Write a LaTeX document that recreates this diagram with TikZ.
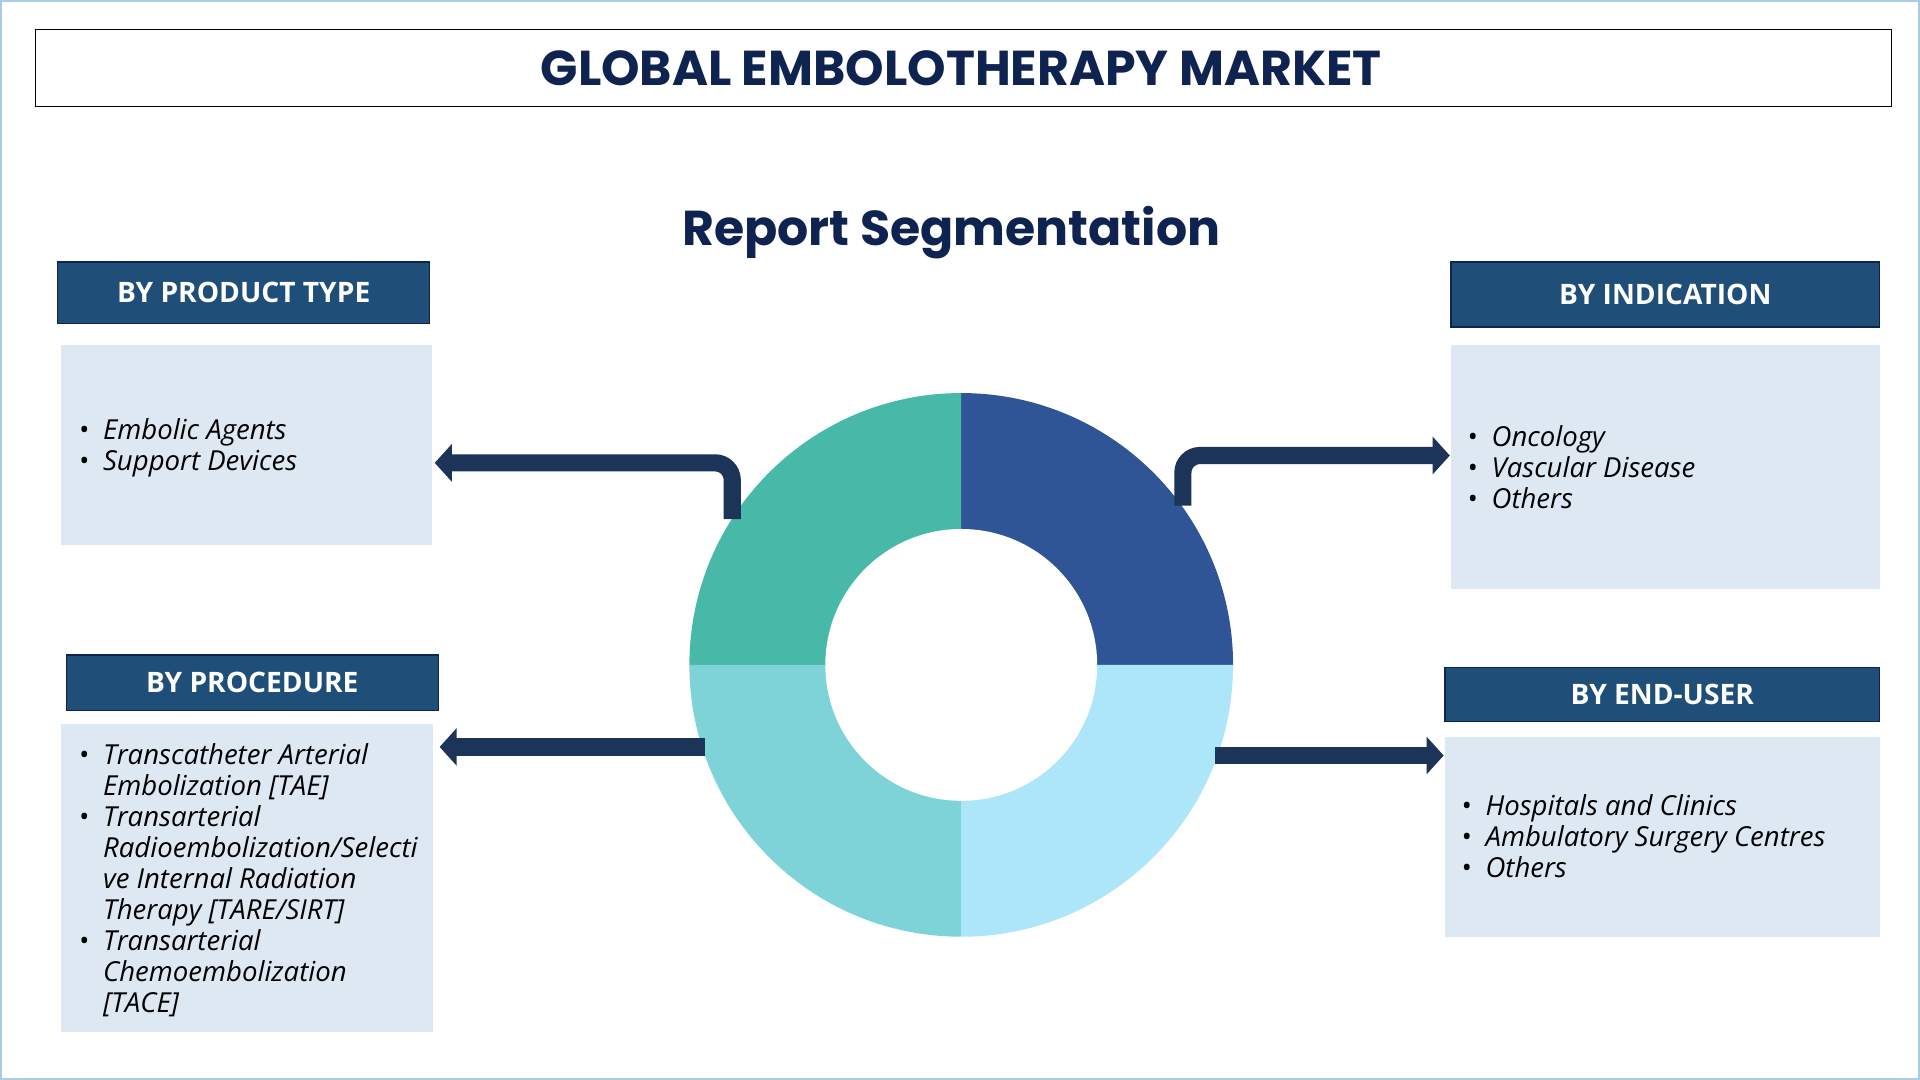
\documentclass[tikz,border=0pt]{standalone}
\usepackage{fontspec}
\setmainfont{Open Sans}
\newfontfamily\titlefont{Poppins}
\usetikzlibrary{arrows.meta}
\definecolor{navy}{HTML}{0F2350}
\definecolor{hdr}{HTML}{1F4E79}
\definecolor{boxbg}{HTML}{DEE8F3}
\definecolor{arr}{HTML}{1C3458}
\definecolor{qa}{HTML}{2F5597}
\definecolor{qb}{HTML}{48B9A8}
\definecolor{qc}{HTML}{7DD3D8}
\definecolor{qd}{HTML}{ADE6F8}
\definecolor{frame}{HTML}{A9CCE3}
\tikzset{
 hdrbox/.style={fill=hdr,draw=navy,line width=1pt,text=white,font=\fontsize{23}{27}\selectfont\bfseries},
 listbox/.style={fill=boxbg},
 listtext/.style={anchor=north west,align=left,font=\fontsize{22.5}{25.3}\selectfont\itshape,text=black,inner sep=0pt},
 bigarrow/.style={arr,line width=14pt,rounded corners=14pt,-{Triangle[width=30pt,length=14pt]}}
}
\newcommand{\bl}{\makebox[20pt][l]{\textbullet}}
\newcommand{\ind}{\hspace*{20pt}}
\begin{document}
\begin{tikzpicture}[x=1pt,y=-1pt]
\useasboundingbox (0,0) rectangle (1568,882);
\fill[white] (0,0) rectangle (1568,882);
\draw[frame,line width=2pt] (1,1) rectangle (1567,881);
\node[draw=black,line width=1pt,minimum width=1516pt,minimum height=63pt,inner sep=0pt] (title) at (787,55.5) {};
\node[text=navy,font=\titlefont\fontsize{40}{44}\selectfont\bfseries] (tt) at (785,56) {GLOBAL EMBOLOTHERAPY MARKET};
\node[text=navy,font=\titlefont\fontsize{40}{44}\selectfont\bfseries] (rs) at (777,190) {Report Segmentation};
% donut
\begin{scope}[shift={(785,543)},x=1pt,y=1pt]
\fill[qa] (0,0) -- (0,222) arc[start angle=90,end angle=0,radius=222] -- cycle;
\fill[qb] (0,0) -- (-222,0) arc[start angle=180,end angle=90,radius=222] -- cycle;
\fill[qc] (0,0) -- (-222,0) arc[start angle=180,end angle=270,radius=222] -- cycle;
\fill[qd] (0,0) -- (0,-222) arc[start angle=270,end angle=360,radius=222] -- cycle;
\fill[white] (0,0) circle[radius=111];
\end{scope}
% boxes
\fill[listbox] (50,282) rectangle (353,445); \coordinate (b1) at (355,378);
\fill[listbox] (1185,282) rectangle (1535,481); \coordinate (b2) at (1184,372);
\fill[listbox] (50,591) rectangle (354,843); \coordinate (b3) at (359,610);
\fill[listbox] (1180,602) rectangle (1535,765); \coordinate (b4) at (1179,617);
\node[hdrbox,minimum width=304pt,minimum height=50pt] (h1) at (199,239) {BY PRODUCT TYPE};
\node[hdrbox,minimum width=350pt,minimum height=53pt] (h2) at (1360,240.5) {BY INDICATION};
\node[hdrbox,minimum width=304pt,minimum height=45pt] (h3) at (206,557.5) {BY PROCEDURE};
\node[hdrbox,minimum width=355pt,minimum height=44pt] (h4) at (1357.5,567) {BY END-USER};
\node[listtext] (t1) at (64,342) {\bl Embolic Agents\\\bl Support Devices};
\node[listtext] (t2) at (1198,347) {\bl Oncology\\\bl Vascular Disease\\\bl Others};
\node[listtext] (t3) at (64,607) {\bl Transcatheter Arterial\\\ind Embolization [TAE]\\\bl Transarterial\\\ind Radioembolization/Selecti\\\ind ve Internal Radiation\\\ind Therapy [TARE/SIRT]\\\bl Transarterial\\\ind Chemoembolization\\\ind [TACE]};
\node[listtext] (t4) at (1193,649) {\bl Hospitals and Clinics\\\bl Ambulatory Surgery Centres\\\bl Others};
% arrows
\coordinate (s1) at (598,424);
\coordinate (s2) at (966,413);
\coordinate (s3) at (576,610);
\coordinate (s4) at (992,617);
\draw[bigarrow] (s1) -- (598,378) -- (b1);
\draw[bigarrow] (s2) -- (966,372) -- (b2);
\draw[bigarrow] (s3) -- (b3);
\draw[bigarrow] (s4) -- (b4);
\end{tikzpicture}
\end{document}
